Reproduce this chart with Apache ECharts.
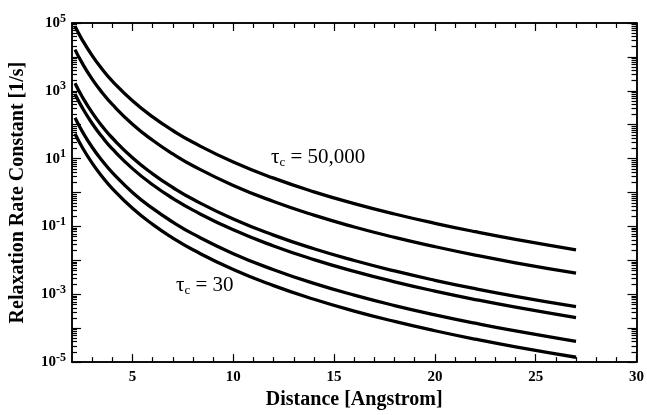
<!DOCTYPE html>
<html>
<head>
<meta charset="utf-8">
<script src="https://cdn.jsdelivr.net/npm/echarts@6/dist/echarts.min.js"></script>
<style>
  html, body { margin: 0; padding: 0; background: #fff; }
  #chart { width: 647px; height: 415px; }
</style>
</head>
<body>
<div id="chart"></div>
<script>
// distance [Angstrom]
var distance = [2.15, 2.5, 3, 3.5, 4, 5, 6, 7, 8, 10, 12, 14, 16, 18, 20, 22, 24, 27];

// relaxation rate constants [1/s], one curve per correlation time (top = 50,000, bottom = 30)
var rate1 = [8.0e4, 3.25e4, 1.09e4, 4325, 1941, 508, 170, 67.5, 30.3, 7.94, 2.66, 1.05, 0.473, 0.233, 0.124, 0.070, 0.0416, 0.0205];
var rate2 = [1.64e4, 6.64e3, 2.22e3, 883, 396, 104, 34.8, 13.8, 6.18, 1.62, 0.543, 0.215, 0.0966, 0.0476, 0.0254, 0.0143, 0.0085, 0.0042];
var rate3 = [1679, 679, 227, 90.4, 40.6, 10.6, 3.56, 1.41, 0.632, 0.166, 0.0556, 0.0220, 0.00989, 0.00488, 0.00259, 0.00146, 0.000869, 0.000429];
var rate4 = [804, 325, 109, 43.3, 19.4, 5.08, 1.70, 0.675, 0.303, 0.0794, 0.0266, 0.01054, 0.00473, 0.00233, 0.00124, 0.0007, 0.000416, 0.000205];
var rate5 = [160, 64.9, 21.7, 8.63, 3.87, 1.01, 0.340, 0.135, 0.0604, 0.0158, 0.00531, 0.0021, 0.000944, 0.000466, 0.000248, 0.00014, 8.3e-5, 4.09e-5];
var rate6 = [54.3, 22.0, 7.36, 2.92, 1.31, 0.344, 0.115, 0.0456, 0.0205, 0.00537, 0.0018, 0.000713, 0.00032, 0.000158, 8.4e-5, 4.73e-5, 2.81e-5, 1.39e-5];

// tick values
var xMajor = [5, 10, 15, 20, 25, 30];
var xMinor = [3, 4, 6, 7, 8, 9, 11, 12, 13, 14, 16, 17, 18, 19, 21, 22, 23, 24, 26, 27, 28, 29];
var yLabels = [1e5, 1e3, 1e1, 1e-1, 1e-3, 1e-5];
var yMajor = [1e5, 1e4, 1e3, 1e2, 1e1, 1, 1e-1, 1e-2, 1e-3, 1e-4, 1e-5];

var yMinor = [];
for (var e = -5; e < 5; e++) {
  for (var m = 2; m <= 9; m++) {
    yMinor.push(m * Math.pow(10, e));
  }
}

var font = 'Liberation Serif';

function pairs(ys) {
  return distance.map(function (d, i) { return [d, ys[i]]; });
}

var chart = echarts.init(document.getElementById('chart'));

function xAx(pos, ticks, len, labels) {
  return {
    type: 'value',
    position: pos,
    min: 2,
    max: 30,
    axisLine: { show: true, onZero: false, lineStyle: { color: '#000', width: 1.5 } },
    axisTick: { show: true, inside: true, length: len, customValues: ticks, lineStyle: { color: '#000', width: 1.2 } },
    axisLabel: labels ? {
      show: true, customValues: xMajor, margin: 8,
      color: '#000', fontFamily: font, fontWeight: 'bold', fontSize: 15
    } : { show: false },
    splitLine: { show: false }
  };
}

function yAx(pos, ticks, len, labels) {
  return {
    type: 'log',
    logBase: 10,
    position: pos,
    min: 1e-5,
    max: 1e5,
    axisLine: { show: true, onZero: false, lineStyle: { color: '#000', width: 1.5 } },
    axisTick: { show: true, inside: true, length: len, customValues: ticks, lineStyle: { color: '#000', width: 1.2 } },
    axisLabel: labels ? {
      show: true, customValues: yLabels, margin: 6,
      formatter: function (v) {
        var p = Math.round(Math.log10(v));
        return '{b|10}{sup|' + p + '}';
      },
      rich: {
        b: { fontFamily: font, fontWeight: 'bold', fontSize: 15, color: '#000' },
        sup: { fontFamily: font, fontWeight: 'bold', fontSize: 12, color: '#000', padding: [0, 0, 9, 0] }
      }
    } : { show: false },
    splitLine: { show: false }
  };
}

var xs = [xAx('bottom', xMajor, 8, true), xAx('bottom', xMinor, 5, false), xAx('top', xMajor, 8, false), xAx('top', xMinor, 5, false)];
xs[0].name = 'Distance [Angstrom]';
xs[0].nameLocation = 'middle';
xs[0].nameGap = 27;
xs[0].nameTextStyle = { fontFamily: font, fontWeight: 'bold', fontSize: 20, color: '#000' };

var ys = [yAx('left', yMajor, 9, true), yAx('left', yMinor, 5, false), yAx('right', yMajor, 9, false), yAx('right', yMinor, 5, false)];
ys[0].name = 'Relaxation Rate Constant [1/s]';
ys[0].nameLocation = 'middle';
ys[0].nameGap = 44;
ys[0].nameTextStyle = { fontFamily: font, fontWeight: 'bold', fontSize: 20, color: '#000' };

var curves = [rate1, rate2, rate3, rate4, rate5, rate6];

var annoRich = {
  t: { fontFamily: font, fontSize: 21, fill: '#000' },
  s: { fontFamily: font, fontSize: 13, fill: '#000', padding: [10, 0, 0, 0] }
};

chart.setOption({
  animation: false,
  backgroundColor: '#fff',
  grid: { left: 72, right: 10, top: 23, bottom: 47 },
  xAxis: xs,
  yAxis: ys,
  series: curves.map(function (c) {
    return {
      type: 'line',
      xAxisIndex: 0,
      yAxisIndex: 0,
      data: pairs(c),
      smooth: true,
      showSymbol: false,
      lineStyle: { color: '#000', width: 3.3 }
    };
  }),
  graphic: [
    {
      type: 'text', left: 271, top: 147,
      style: { text: '{t|τ}{s|c}{t| = 50,000}', rich: annoRich }
    },
    {
      type: 'text', left: 176, top: 275,
      style: { text: '{t|τ}{s|c}{t| = 30}', rich: annoRich }
    }
  ]
});
</script>
</body>
</html>
